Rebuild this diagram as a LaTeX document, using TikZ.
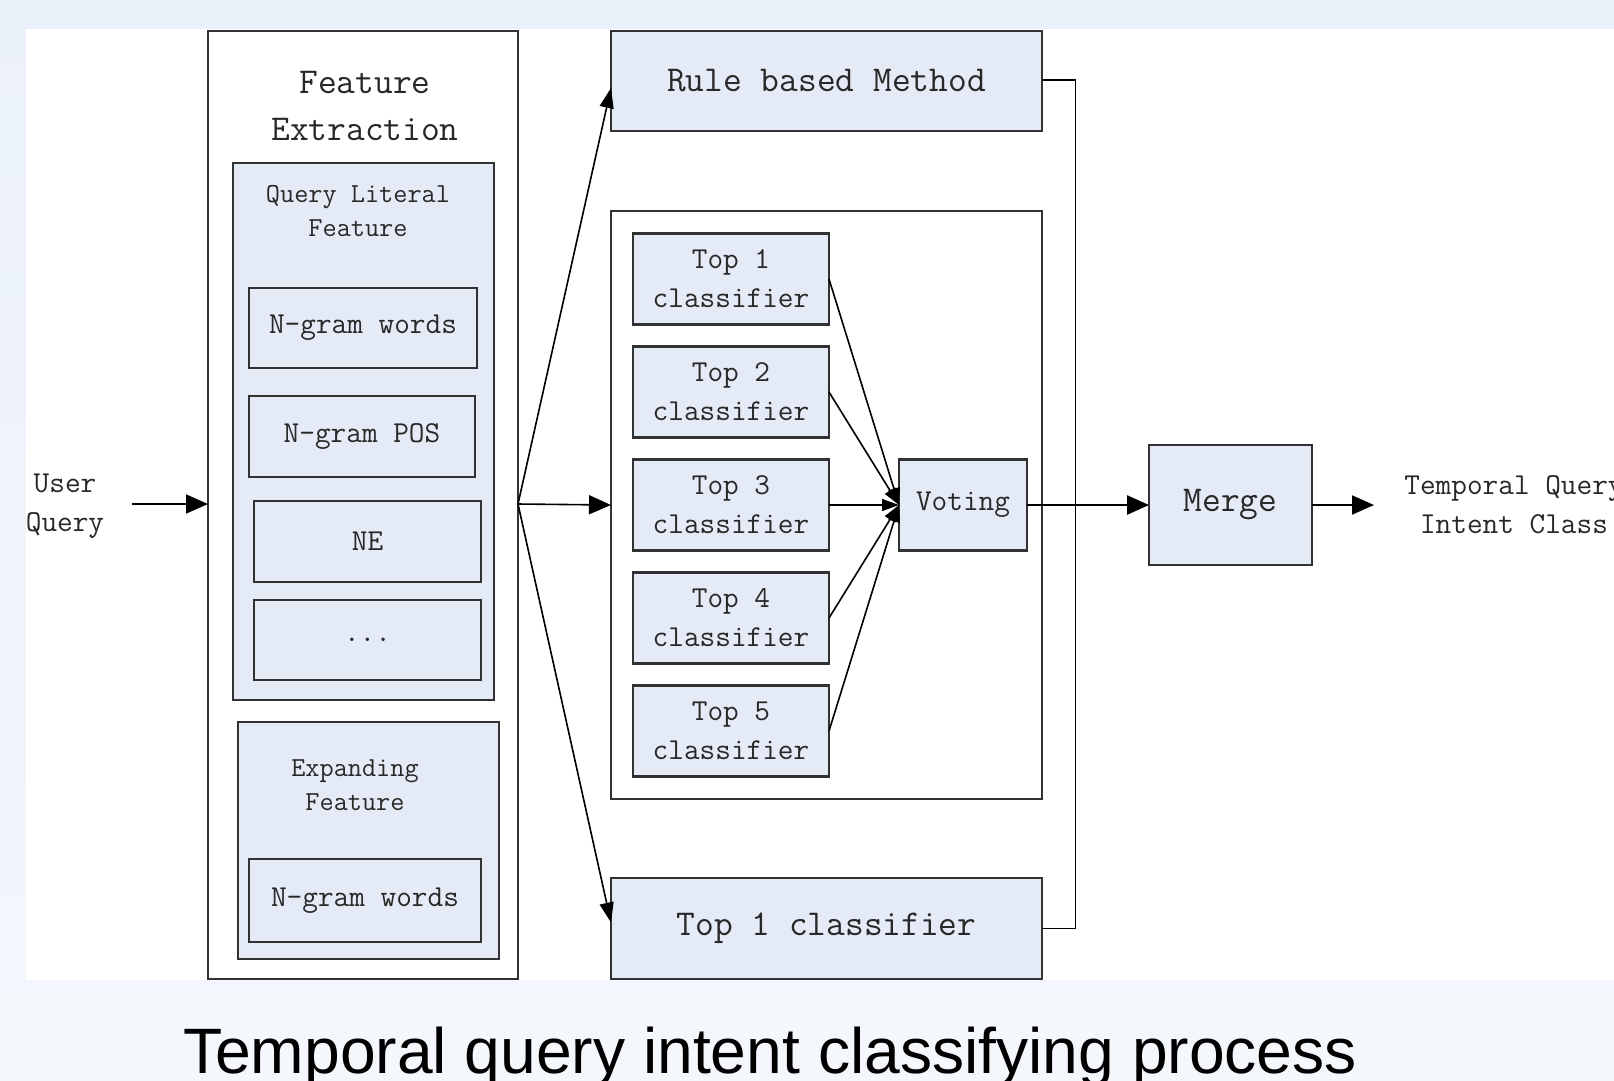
\documentclass[tikz,border=0pt]{standalone}
\usepackage{fontspec}
\newfontfamily\capfont{Liberation Sans}
\usetikzlibrary{arrows.meta}
\definecolor{bgtop}{RGB}{235,241,250}
\definecolor{bgbot}{RGB}{244,247,252}
\definecolor{bfill}{RGB}{229,235,246}
\definecolor{bline}{RGB}{50,50,50}
\definecolor{txtc}{RGB}{40,40,40}
\newcommand\myBig{\ttfamily\fontsize{36.4}{46.3}\selectfont}
\newcommand\myMid{\ttfamily\fontsize{30.4}{39}\selectfont}
\newcommand\mySml{\ttfamily\fontsize{27.5}{34}\selectfont}
\begin{document}
\begin{tikzpicture}[x=1pt,y=-1pt,
  bx/.style 2 args={draw=bline, line width=2.4pt, fill=bfill, minimum width=#1pt, minimum height=#2pt, inner sep=0pt, outer sep=0pt, text=txtc},
  lbl/.style={inner sep=0pt, align=center, text=txtc},
  conn/.style={draw=black, line width=1.6pt},
  bigtip/.style={-{Triangle[length=22pt,width=19pt]}},
  medtip/.style={-{Triangle[length=20pt,width=14pt]}},
  smltip/.style={-{Triangle[length=17pt,width=12pt]}}]
\useasboundingbox (0,0) rectangle (1614,1080);
% background
\shade[top color=bgtop, bottom color=bgbot] (0,0) rectangle (1614,1080);
\fill[white] (26,29) rectangle (1614,980);

% Feature extraction column
\node[bx={310}{948}, fill=white] (fe) at (363,505) {};
\node[lbl, font=\myBig] (fel) at (365,106) {Feature\\Extraction};
\node[bx={261}{537}] (ql) at (363.5,431.5) {};
\node[lbl, font=\mySml] (qll) at (358,211) {Query Literal\\Feature};
\node[bx={228}{80}, font=\myMid] (ngw) at (363,328) {N-gram words};
\node[bx={226}{81}, font=\myMid] (ngpos) at (362,436.5) {N-gram POS};
\node[bx={227}{81}, font=\myMid] (ne) at (367.5,541.5) {NE};
\node[bx={227}{80}, font=\myMid] (dots) at (367.5,640) {...};
\node[bx={261}{237}] (exp) at (368.5,840.5) {};
\node[lbl, font=\mySml] (expl) at (355,785) {Expanding\\Feature};
\node[bx={232}{83}, font=\myMid] (ngw2) at (365,900.5) {N-gram words};

% input
\node[lbl, font=\myMid] (uq) at (65,506) {User\\Query};
\coordinate (uqstart) at (132,504);
\draw[conn, bigtip] (uqstart) -- (fe.west |- uqstart);
\coordinate (split) at (fe.east |- uqstart);

% middle column
\node[bx={431}{100}, font=\myBig] (rule) at (826.5,81) {Rule based Method};
\node[bx={431}{588}, fill=white] (cont) at (826.5,505) {};
\node[bx={196}{91}, font=\myMid, align=center] (t1) at (731,279) {Top 1\\classifier};
\node[bx={196}{91}, font=\myMid, align=center] (t2) at (731,392) {Top 2\\classifier};
\node[bx={196}{91}, font=\myMid, align=center] (t3) at (731,505) {Top 3\\classifier};
\node[bx={196}{91}, font=\myMid, align=center] (t4) at (731,618) {Top 4\\classifier};
\node[bx={196}{91}, font=\myMid, align=center] (t5) at (731,731) {Top 5\\classifier};
\node[bx={128}{91}, font=\myMid] (vote) at (963,505) {Voting};
\node[bx={431}{101}, font=\myBig] (bot) at (826.5,928.5) {Top 1 classifier};

\draw[conn, medtip] (split) -- ([yshift=-7pt]rule.west);
\draw[conn, bigtip] (split) -- (cont.west);
\draw[conn, medtip] (split) -- ([yshift=6pt]bot.west);
\foreach \i in {1,...,5} {\draw[conn, smltip] (t\i.east) -- (vote.west);}

% merge
\node[bx={163}{120}, font=\myBig] (merge) at (1230.5,505) {Merge};
\coordinate (bus) at (1075.6,505);
\draw[conn] ([yshift=1pt]rule.east) -| (bus) |- (bot.east);
\draw[conn] (vote.east) -- (bus);
\draw[conn, line width=2.6pt, bigtip] (bus) -- (merge.west);
\coordinate (outtip) at (1374,505);
\draw[conn, line width=2pt, bigtip] (merge.east) -- (outtip);
\node[lbl, font=\myMid] (outl) at (1514,505) {Temporal Query\\Intent Class};

% caption
\node[anchor=base, inner sep=0pt, font=\capfont\fontsize{64.2}{70}\selectfont] (cap) at (770,1073) {Temporal query intent classifying process};
\end{tikzpicture}
\end{document}
